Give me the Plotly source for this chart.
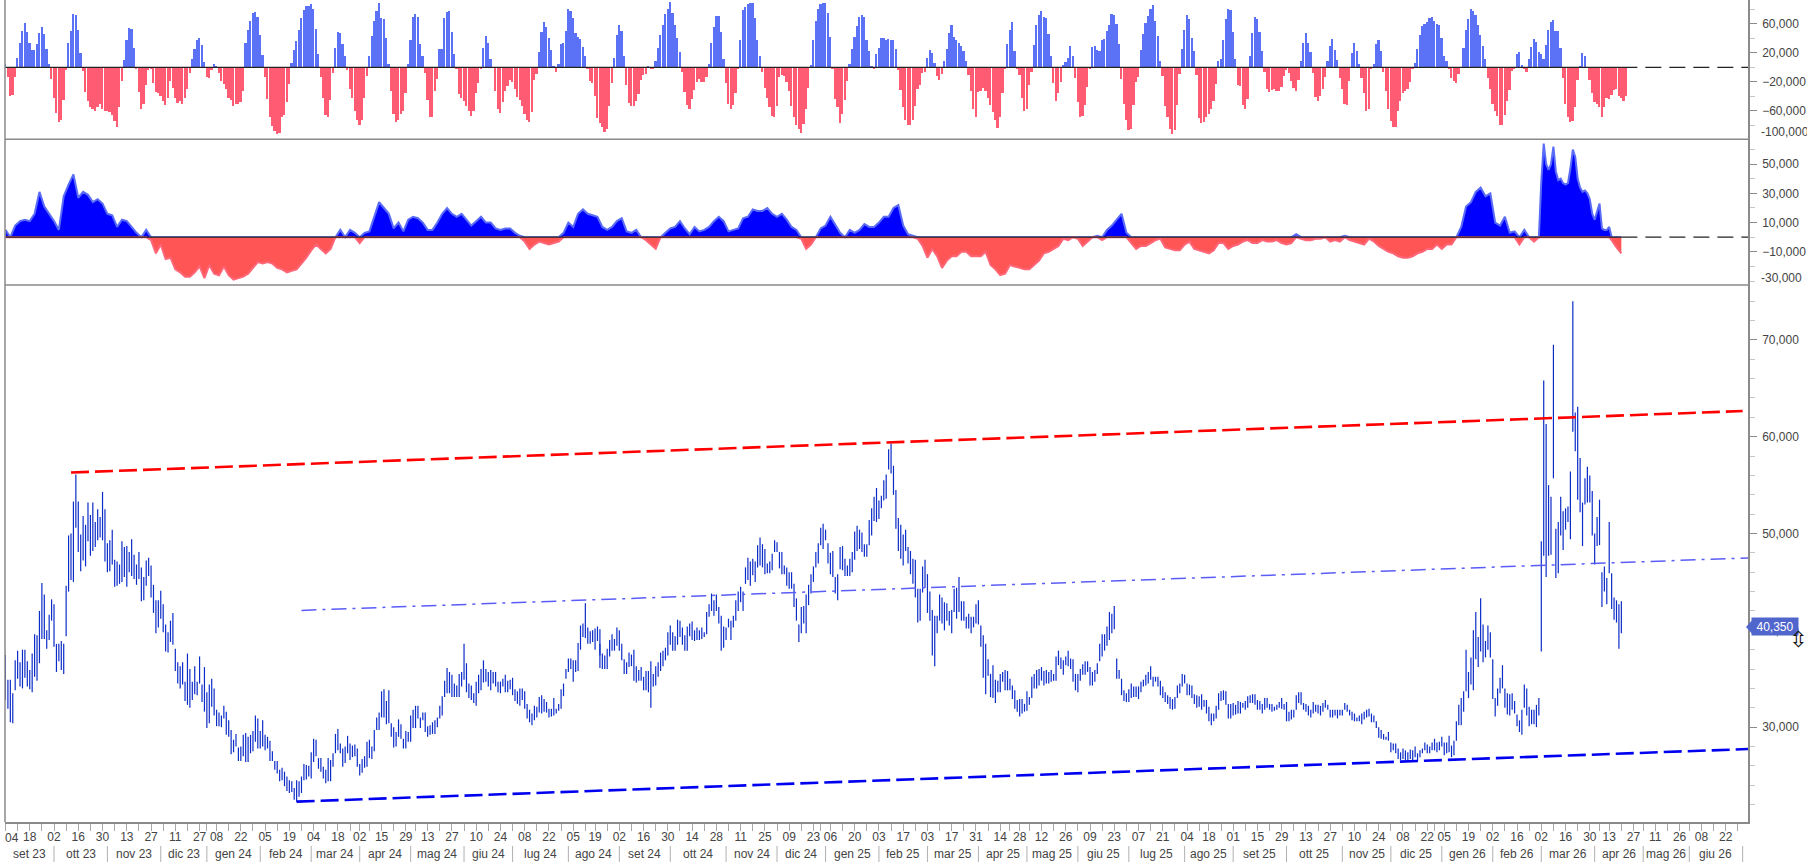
import pandas as pd
import plotly.graph_objects as go

# high/low per session, thousands
bars_a = [(37.5,32.8),(34.9,31.9),(34.9,30.5),(33.5,30.4),(36.9,33.8),(37.9,35.0),(36.7,34.2),(38,34),(38,35.1),(36.8,34.2),
(35.9,33.9),(37.6,33.6),(39.6,35.2),(39.5,34.8),(42,36.6),(44.9,39.1),(43.7,39.1),(40,38.1),(41.6,39),(43.2,41),
(42.7,38.3),(38.6,35.7),(38.6,36.8),(38.9,35.9),(38.6,35.5),(44.6,39.4),(49.8,44),(50,45.2),(53.3,45),(56.1,50.6),
(53.3,48.1),(49.9,46.1),(51.8,47.2),(50.9,46.6),(53.2,49.2),(51.9,47.7),(53.2,48.2),(51.2,48.6),(52.5,49.3),(51.7,49.6),
(54.3,49.3),(52.5,47.1),(49,46),(49.3,46.1),(50.4,46.8),(47.3,44.5),(47.1,44.6),(46.8,44.8),(49.2,45),(48.6,45.5),
(48.7,44.5),(48.1,46),(49.4,45.6),(47.8,45.3),(46.8,44.7),(48.1,45.3),(46.5,43),(45.5,43.1),(47.2,44.6),(47.5,45.6),
(46.7,43.4),(44.7,41.8),(43.1,39.7),(43.1,40.3),(44.1,41.2),(42.7,39.8),(40.6,37.8),(39.8,37.7),(41,38.8),(41.8,38.5),
(38.1,35.8),(36.7,34.5),(36.3,34),(36.7,34.4),(34.7,32.7),(37.6,32.3),(36,32),(34.7,32.8),(36.3,33.4),(34.7,33.3),
(37.3,34.5),(34.4,32.6),(36.2,31.6),(33.6,29.9),(34.4,30.4),(35,32.1),(34,31.2),(31.8,30.1),(31.5,30.1),(31.2,30),
(32.2,30.9),(31.6,29.2),(30.7,29),(29.7,27.2),(28.7,27.4),(29.3,28),(27.9,26.5),(28,26.5),(29.2,27),(29.4,26.4),
(29,26.4),(29.2,27.3),(29.6,27.5),(31.2,28.5),(30.9,27.8),(29.6,27.8),(30.7,28),(29.2,27.6),(29,27.8),(28.6,26.5),
(27.5,26.5),(26.5,25.6),(26.5,25.2),(25.6,24.4),(25.8,24.5),(25.4,23.9),(24.9,23.4),(24.5,23.2),(24.4,23.3),(23.7,22.5),
(24.5,22.3),(24.4,22.8),(24.9,23.2),(26.2,24.5),(26.1,24.6),(26,24.9),(27.4,24.7),(28.8,26.4),(28.7,27),(26.8,25.7),
(26.8,25.4),(25.9,24.7),(25.6,24.2),(26.8,24.4),(26.6,24.4),(27.3,25.9),(29.3,27.3),(29.8,27.6),(28.3,27.3),(27.8,25.9),
(28,26.3),(29.1,27.3),(28.3,26.6),(28.1,26.9),(28.2,27),(27.8,25.9),(26.2,25),(26.7,25.3),(27,25.8),(28.5,25.9),
(28.7,26.8),(28,26.7),(29.7,27.5),(31,29.7),(31.5,29.7),(33.7,31),(33.9,31),(32.7,30.3),(33.8,30.4),(30.4,29),
(30,27.9),(29.5,28),(30.8,29),(30.3,28.8),(28.8,27.8),(29.6,27.8),(29.5,28.5),(31.2,28.5),(31.8,29.9),(32.2,29.9),
(32.2,30.9),(31,29.9),(31.5,30.7),(31.5,29.5),(30.1,29),(30.2,29.2),(30.5,29.3),(30.7,29.3),(31,30),(32.2,30.9),
(33.2,31.2),(34.8,33.1),(36.1,33.5),(35.7,33.5),(35.4,33.1),(34.5,33.1),(34.3,33.1),(35.5,33.1),(35.7,34.2),(38.6,34.9),
(36.6,33.6),(34.5,33),(34.3,32.8),(33.5,32.5),(34.7,32.2),(35.4,33.5),(36,33.8),(36.9,34.6),(36,34.7),(35.7,34.2),
(35.9,33.8),(35.7,34.5),(35.7,34.2),(34.7,33.6),(34.7,33.5),(35,34.2),(35.4,33.6),(34.8,33.6),(34.9,33.9),(35.1,33.3),
(33.9,32.7),(33.7,32.4),(34,32.2),(34,32.8),(33.7,31.9),(32.4,30.9),(31.8,30.5),(31.4,30.2),(32.2,30.7),(32.1,31),
(33.1,31.5),(33.3,31.4),(32.9,31.6),(32.6,31.5),(31.9,31),(31.9,31.1),(33,31.2),(31.9,31.4),(32.4,31.7),(33.9,31.9),
(34.5,33.2),(36,35),(37.1,35.7),(37.1,36),(36.9,34.7),(36.9,35.7),(38.7,35.8),(40.5,38),(40.7,39.3),(42.8,39.2),
(40.3,38.6),(39.9,38.6),(40,38.8),(40.2,38),(40.4,38.9),(40.1,37.4)]
bars_b = [(38.6,36.1),(37.6,36),(37.4,36),(38.1,36),(39,37.3),(39.6,37.9),(39.1,37.9),(40.3,38.4),(40,37.9),(38.6,36.9),
(37,35.5),(36.7,35.5),(37.7,36.2),(37.5,36.3),(38,34.8),(36.3,34.6),(35.9,34.8),(36.2,34.8),(35.2,33.8),(35.8,33.8),
(35.8,33.6),(36.8,32),(35.5,34.2),(36.3,34.3),(36.7,35.2),(37.7,35.8),(37.9,36.3),(38.2,36.9),(39.8,37.4),(40.5,38.5),
(39.8,37.9),(39.4,37.9),(41.1,38.5),(41,39.3),(40.3,38.5),(39.5,37.9),(40.4,37.9),(40.7,39.4),(40.9,39),(40,38.9),
(40.3,39),(40,39),(40.3,39.1),(39.8,39.3),(41.9,39.6),(42.7,41.4),(43.8,42),(43.1,41.5),(43.7,42),(42.4,40.7),
(41.5,37.9),(40.4,38.2),(40.3,39),(41.2,40.3),(41,39),(41.5,40.3),(43.1,41),(44,42),(44.5,42.9),(44,42),
(46.5,44.8),(47.5,45.2),(47.1,44.6),(47.4,45.7),(47.1,45),(48.8,46.5),(49.6,46.7),(48.9,46.5),(48.4,45.8),(46.9,45.9),
(47.1,45.9),(47.9,46.2),(49.3,48.1),(49.1,48.1),(48.1,46.4),(48.1,45.8),(46.7,45.8),(46.5,44.6),(46,44.3),(46,44.3),
(44.8,42.4),(43.3,41),(40.6,38.8),(42.4,39.7),(42.5,40.7),(43.7,39.7),(44.7,42.6),(45.8,43.8),(46.6,45),(48.1,46.5),
(49,46.9),(50.6,48.8),(51,48.4),(50.4,49.3),(49,46.9),(48,45.8),(48.2,45.5),(45.5,43.8),(45.8,43.1),(48.6,46.3),
(48.7,46.2),(47.4,45.6),(46.7,45.6),(47.4,45.6),(48.1,46),(50.2,47.3),(50.8,48.2),(50.4,48.4),(50.1,48.1),(48.9,47.6),
(48.9,47.6),(51.4,48.8),(52.6,49.8),(53.8,51.3),(54.7,51.2),(53.4,51.5),(53.9,52.6),(55.5,53.4),(56.1,53.6),(58.7,56.6),
(59.3,56.2),(57,54),(54.5,50.5),(51.6,48.2),(50.9,47.4),(49.9,46.7),(50.4,48.2),(48.6,46.9),(48.2,45.8),(47.4,44.8),
(47.3,43.4),(44.3,40.8),(44.3,41),(46.6,43.9),(47.3,44.4),(45.8,41.8),(44,41),(42.1,37.4),(41.5,36.3),(41.5,39.7),
(43.7,41),(43.4,40.7),(42.9,40),(42.8,41),(42,40.5),(42.1,39.7),(44.3,41.9),(44.4,41.2),(45.5,41.9),(43,41),
(43,41),(41.4,40.2),(41.7,40.2),(41.4,39.7),(41.4,40.3),(42.7,40.7),(43.1,40.6),(40.5,38.3),(39.5,35.1),(38.6,33.4),
(37,35.3),(35.5,33.1),(36.4,33),(34.9,32.5),(34.8,33.6),(35.5,33.6),(35.7,34.7),(35.9,33.8),(35.8,33.8),(35,33.8),
(34.3,32.9),(33.8,31.9),(32.8,31.6),(32.9,31.1),(32.9,31.4),(32.4,31.6),(33.7,31.7),(33.1,32.3),(35.2,33),(35.5,34),
(35.9,34),(36,34.3),(36.2,34.8),(35.8,34.3),(35.9,34.5),(35.7,34.5),(35.9,34.7),(35.5,34.8),(37.3,34.8),(37.9,36.4),
(37.2,36),(36.9,35.4),(37.3,36.4),(37.9,36.3),(37.1,36),(37,34.7),(35.5,33.8),(35.5,33.6),(36,34.8),(36.5,35.4),
(36.8,35.4),(36.8,35.7),(36.2,34.3),(35.7,34.3),(35.9,34.7),(36.6,35.5),(38.6,36.8),(39.6,37.3),(39.6,37.9),(40.4,38.4),
(41.9,39),(41.7,39.7),(42.5,40.1),(37.1,35),(35.9,35),(35,33.3),(33.8,32.7),(33.5,32.6),(33.9,32.6),(34.5,33),
(34.2,33.1),(34.2,33.1),(34.2,32.9),(34.7,33.6),(34.9,34.2),(35.4,34.3),(35.7,34.5),(36.3,34.9),(35.2,34.2),(35.2,34.7),
(35.2,34.2),(34.8,33.3),(34.2,33),(33.6,32.6),(33.3,32.4),(33.1,31.9),(32.9,31.8),(33.1,31.9),(34.3,33),(34.5,33.5),
(35.5,34.2),(35.4,34.5),(34.5,33.3),(34.4,33.3),(34.3,33),(33.4,32.4),(33.3,32),(33.2,32.1)]
bars_c = [(33.4,31.8),(32.8,32.1),(32.8,31.4),(32.1,30.6),(31.4,30.2),(31.4,30.6),(32.2,30.9),(33.5,31.8),(33.7,32.7),(33.8,32.8),
(33.7,32.3),(32.4,30.9),(32.4,30.9),(32.5,31.2),(32.3,31.3),(32.7,31.4),(32.6,31.4),(32.5,32),(32.7,31.8),(33.2,32),
(33.3,32.5),(33.4,32.5),(33.4,32.3),(32.8,31.8),(32.7,31.8),(32.4,31.4),(33,31.8),(33,32),(32.4,31.8),(32.4,31.6),
(32.1,31.7),(32.3,31.8),(32.6,32),(33,31.9),(32.4,31.8),(32.6,30.6),(31.6,30.6),(31.8,30.8),(31.8,31),(33.3,31.8),
(33.6,32.5),(33.6,32.3),(32.5,31.8),(32.4,31.6),(32.2,31.2),(31.8,31),(32.6,31.4),(32.3,31.6),(32.3,31.4),(32.2,31.2),
(32.5,31.6),(32.8,32),(32.3,31.8),(31.8,31),(31.8,31),(31.8,31.2),(31.8,30.9),(31.8,31.2),(31.8,31.2),(32.5,31.8),
(32.3,31.6),(31.8,31.2),(31.6,30.7),(31.4,30.6),(31,30.6),(31.2,30.6),(31.4,30.3),(31.6,30.8),(31.8,31),(31.9,31.1),
(31.4,30.5),(31.2,30.5),(30.6,29.9),(30,28.9),(29.7,28.8),(29.3,28.7),(29,28.7),(29.5,28.6),(28.4,27.4),(28.3,27.6),
(28.3,27.3),(27.8,26.7),(27.4,26.6),(27.8,26.7),(27.6,26.6),(27.4,26.5),(27.7,26.7),(27.6,26.6),(28,26.9),(27.3,26.5),
(27.6,26.9),(27.8,27.3),(28.4,27.6),(28.2,27.3),(28,27.3),(28.4,27.6),(28.8,27.6),(28.4,27.4),(28.5,27.6),(29,28),
(28.4,27.1),(28.4,27.3),(29.1,27.4),(28.1,26.9),(28.6,27.1),(30.6,28.6),(32.3,30.2),(33,30.2),(33.7,31.6),(38,33.7),
(35.7,33),(37.2,34.4),(40,33.8),(41.9,37),(39.3,36.2),(43.3,37.8),(40.6,36.7),(38.9,37.2),(40.5,38),(39.8,37.2),
(37,32.9),(33,31.1),(34,32.2),(35.1,33.5),(36.4,34),(34,32),(33.5,31.3),(33.4,31.2),(33.5,31.8),(32.7,31.4),
(31.3,30.1),(30.7,29.5),(31.8,29.2),(34.4,32),(34,31.2),(32.1,30.1),(31.8,30.3),(31.8,30.3),(32.3,30),(33,31.2),
(49.2,37.8),(65.8,47.7),(61.3,45.5),(55,47.7),(53.8,47.8),(69.5,55.7),(50.5,45.4),(51.2,45.9),(53.8,49.8),(52.3,48.3),
(52.6,50.4),(52.8,51.2),(56.4,49.4),(74,60.5),(62.5,58.5),(63.1,53.5),(57.8,52.2),(53.2,48.7),(55.7,53),(56.9,53.2),
(56,53.2),(54.4,49.8),(50,46.8),(51.7,48.7),(53.5,48.8),(46,42.4),(46.6,44),(45.4,42.7),(51.2,45.9),(45.9,42.2),
(43.4,41.1),(43.1,40.8),(42.7,38.1),(43,39.7)]
bars_a_start = 0
bars_b_start = 245
bars_c_start = 493

# upper histogram, thousands
hist_a = [5,-14,-40,-38,-13,13,34,50,61,49,34,24,24,32,47,55,46,25,5,-16,-42,-63,-75,-73,-45,-4,33,50,73,72,52,20,-5,-34,-47,-55,-58,-60,-55,-50,
-58,-60,-60,-62,-66,-74,-82,-55,-19,10,38,54,53,27,-3,-34,-58,-50,-24,-4,-3,-21,-34,-36,-39,-46,-52,-42,-19,-28,-43,-49,-47,-50,-43,-30,-8,12,25,38,
40,31,7,-13,-15,-4,5,2,-8,-19,-23,-30,-42,-45,-53,-50,-51,-48,-32,33,52,64,75,76,70,45,17,-13,-44,-68,-81,-88,-92,-90,-68,-66,-48,-23,
6,24,36,51,68,79,84,84,87,80,53,19,-14,-43,-66,-68,-45,-8,27,49,47,32,15,-4,-30,-42,-60,-72,-80,-73,-42,-12,15,43,64,78,88,68,66,40,
4,-33,-64,-75,-73,-64,-60,-35,5,38,70,73,70,32,15,-8,-45,-68,-68,-32,-16,25,25,68,76,77,49,19,-3,-37,-42,-47,-53,-60,-67,-60,-35,-22,-2,26,43,34,
12,0,-33,-58,-63,-48,-32,-26,-18,-20,-30,-41,-45,-54,-64,-72,-76,-61,-17,-9,21,49,62,56,40,24,1,-7,5,32,33,50,80,78,68,47,42,39,28,16,
-2,-19,-22,-40,-70]
hist_b = [-77,-83,-89,-85,-53,-21,13,44,59,50,15,-24,-49,-54,-53,-47,-37,-17,-10,-9,2,-2,-3,8,26,45,59,74,81,90,75,58,40,21,-6,-34,-52,-57,-44,-31,
-20,-16,-20,-20,-13,5,33,56,71,71,48,12,-22,-50,-58,-52,-36,-1,37,79,83,87,89,88,68,37,15,-6,-29,-43,-55,-67,-68,-53,-13,-11,-12,-20,-33,-54,
-68,-80,-85,-90,-78,-57,-29,3,37,64,81,87,89,89,75,42,-3,-44,-55,-77,-65,-45,-19,4,25,42,57,69,72,69,37,22,1,-1,18,27,40,41,38,39,38,37,
25,-4,-31,-55,-72,-80,-80,-72,-54,-30,-25,-8,-7,13,24,20,6,-12,-17,-9,8,25,47,58,42,37,33,30,22,8,-10,-33,-58,-68,-34,-33,-28,-32,-42,-52,
-61,-73,-84,-68,-36,-2,32,52,62,22,-1,-10,-43,-60,-57,-24,-6,31,58,72,77,70,68,46,15,-21,-47,-36,-20,3,7,13,29,16,-15,-48,-68,-67,-52,-27,
-1,28,30,24,23,37,39,50,58,73,72,60,32,-16,-50,-73,-86,-85,-52,-20,-13,24,46,61,71,81,86,64,43,8,-12,-53,-68,-85,-92,-86,-52,-9,25,51,
72,67,41,23,-10,-70]
hist_c = [-77,-76,-68,-65,-57,-46,-23,9,12,38,66,81,79,48,11,-25,-26,-52,-57,-44,16,47,69,66,49,22,-7,-30,-34,-31,-30,-32,-33,-27,-12,-4,-8,-19,-29,-33,
-18,9,34,47,34,21,-8,-41,-46,-40,-30,-13,9,29,39,24,10,-15,-30,-50,-52,-19,20,34,23,4,-15,-36,-60,-57,-2,5,32,37,22,-6,-32,-57,-74,-82,
-82,-60,-46,-36,-33,-30,-20,-1,6,25,44,57,60,62,68,70,64,60,58,41,16,8,-2,-15,-19,-21,-9,0,26,52,67,80,78,72,59,45,30,12,-15,-30,-50,-60,
-67,-79,-80,-66,-46,-31,-5,-1,18,21,3,-3,-6,12,28,39,35,21,18,12,31,51,63,65,50,50,27,-15,-51,-68,-76,-74,-55,-18,2,20,16,0,-17,-36,-48,-50,
-55,-68,-55,-42,-44,-38,-31,-30,-40,-43,-47,-39]
hist_a_start = 0
hist_b_start = 245
hist_c_start = 493

# lower area indicator, thousands, one reading every two sessions, daily at the end
flow_a = [5,0,8,11,12,11,16,31,21,16,11,5,28,36,43,27,31,29,24,26,23,16,15,7,12,11,7,3,0,5,-2,-11,-5,-15,-14,-22,-24,
-27,-27,-24,-20,-28,-19,-25,-26,-20,-26,-29,-28,-27,-25,-21,-17,-18,-17,-18,-21,-22,-24,-23,-22,-18,-14,-9,-5,-8,-11,
-8,0,5,0,5,3,-4,3,4,14,24,20,16,6,10,4,12,14,13,10,5,5,10,16,20,16,14,16,12,8,11,14,10,10,6,5,6,6,3,1,
-3,-8,-5,-3,-4,-5,-4,-3,3,10,7,16,19,16,15,14]
flow_b = [7,5,7,11,13,4,3,5,0,-2,-5,-8,0,3,6,7,11,6,2,7,4,5,7,11,14,11,4,5,6,13,14,19,18,18,20,16,14,16,12,7,
5,-1,-8,-5,0,6,8,14,8,3,0,5,3,5,9,7,7,10,14,14,20,22,8,2,1,-1,-6,-14,-8,-13,-21,-16,-13,-13,-10,-10,-13,-13,-13,
-10,-19,-22,-26,-25,-19,-20,-21,-22,-22,-19,-16,-11,-10,-8,-6,-1,-2,0,-1,-6,-3,0,1,-2,5,8,12,16,3,-4,-8,-6,-6,-4,-2,-1,-7,-8,-9,-9,-5,-3,-8]
flow_c = [-10,-11,-9,-4,-4,-8,-6,-5,-3,-2,-4,-4,-2,-3,-3,-2,-4,-5,-4,2,-1,-2,-2,-1,-1,0,-3,-2,-3,1,-2,-3,-4,-5,-1,-3,-6,-8,-10,-11,
-13,-14,-14,-13,-11,-10,-8,-8,-5,-8,-5,-5,0,7,21,24,31,34,28,30,10,8,14,3,4,-5,5,0,-3,0]
flow_d = [38,64,50,46,50,62,45,39,40,37,36,37,47,60,55,40,34,31,32,30,26,16,12,18,23,6,5,5,7,-2,-5,-7,-9,-11]
flow_step = 2
flow_a_start, flow_b_start, flow_c_start, flow_d_start = 0, 246, 494, 633

# exchange closed days
closed_days = ["2023-12-25","2023-12-26","2024-01-01","2024-03-29","2024-04-01","2024-05-01","2024-08-15","2024-12-25","2024-12-26",
               "2025-01-01","2025-04-18","2025-04-21","2025-05-01","2025-08-15","2025-12-25","2025-12-26","2026-01-01","2026-04-03",
               "2026-04-06","2026-05-01","2026-05-25"]
month_names = ["gen","feb","mar","apr","mag","giu","lug","ago","set","ott","nov","dic"]

# trend lines, bar number and price
red_x, red_y = [27, 716], [56300, 62650]
blue_x, blue_y = [120, 718.2], [22300, 27740]
mid_x, mid_y = [122, 718.2], [42060, 47480]
last_price = 40350

top_ticks = [60000, 20000, -20000, -60000]
flow_ticks = [50000, 30000, 10000, -10000]
price_ticks = [30000, 40000, 50000, 60000, 70000]

GREY = "#8a8a8a"
TEXT = "#444444"
FONT = "Liberation Sans, Arial, sans-serif"
W, H = 1807, 862
L, R, B = 5, 59, 40
PW, PH = W - L - R, H - B

def px_y(py):
    return (PH - py) / PH

def px_x(px):
    return (px - L) / PW

# calendar -> bar numbers
days = pd.bdate_range("2023-09-04", "2026-07-03")
days = days[~days.isin(pd.to_datetime(closed_days))]
cal = pd.DataFrame({"d": days, "i": range(len(days))})
weeks = cal.groupby(cal.d.dt.to_period("W")).first()
tick_vals = weeks.i.tolist()
tick_text = [d.strftime("%d") if n % 2 == 0 else "" for n, d in enumerate(weeks.d)]
first_label = tick_text[0]
tick_text[0] = ""
months = cal.groupby(cal.d.dt.to_period("M")).first()
x_end = 718.2
x_start = -0.2

fig = go.Figure()

# price bars
bx, by = [], []
for start, seg in [(bars_a_start, bars_a), (bars_b_start, bars_b), (bars_c_start, bars_c)]:
    for k, (hi, lo) in enumerate(seg):
        bx += [start + k, start + k, None]
        by += [lo * 1000, hi * 1000, None]
fig.add_trace(go.Scatter(x=bx, y=by, mode="lines", line=dict(color="#0c2cc8", width=1.2), hoverinfo="skip", yaxis="y"))
fig.add_trace(go.Scatter(x=red_x, y=red_y, mode="lines", line=dict(color="#ff0000", width=2.6, dash="18px,6px"), hoverinfo="skip", yaxis="y"))
fig.add_trace(go.Scatter(x=blue_x, y=blue_y, mode="lines", line=dict(color="#0000f0", width=2.6, dash="18px,6px"), hoverinfo="skip", yaxis="y"))
fig.add_trace(go.Scatter(x=mid_x, y=mid_y, mode="lines", line=dict(color="#5a5cf8", width=1.5, dash="15px,6px,3px,6px"), hoverinfo="skip", yaxis="y"))

# histogram pane
hx, hy = [], []
for start, seg in [(hist_a_start, hist_a), (hist_b_start, hist_b), (hist_c_start, hist_c)]:
    for k, v in enumerate(seg):
        hx.append(start + k)
        hy.append(v * 1000)
fig.add_trace(go.Bar(x=hx, y=hy, width=0.7, marker=dict(color=["#5c72f6" if v > 0 else "#ff5c74" for v in hy], line_width=0),
                     hoverinfo="skip", yaxis="y3"))

# area pane
flow_x, flow_vals = [], []
for start, step, seg in [(flow_a_start, flow_step, flow_a), (flow_b_start, flow_step, flow_b), (flow_c_start, flow_step, flow_c), (flow_d_start, 1, flow_d)]:
    for k, v in enumerate(seg):
        flow_x.append(start + k * step)
        flow_vals.append(v)
fig.add_trace(go.Scatter(x=flow_x, y=[max(v, 0) * 1000 for v in flow_vals], mode="lines", fill="tozeroy", fillcolor="#0000ff",
                         line=dict(color="#5a6cf5", width=2), hoverinfo="skip", yaxis="y2"))
fig.add_trace(go.Scatter(x=flow_x, y=[min(v, 0) * 1000 for v in flow_vals], mode="lines", fill="tozeroy", fillcolor="#ff5555",
                         line=dict(color="#ff6678", width=2), hoverinfo="skip", yaxis="y2"))

# zero lines, solid under the data then dashed
last_bar = flow_x[-1]
for ax in ["y2", "y3"]:
    fig.add_trace(go.Scatter(x=[x_start, last_bar], y=[0, 0], mode="lines", line=dict(color="#222222", width=1.3), hoverinfo="skip", yaxis=ax))
    fig.add_trace(go.Scatter(x=[last_bar, x_end], y=[0, 0], mode="lines", line=dict(color="#222222", width=1.3, dash="16px,8px"), hoverinfo="skip", yaxis=ax))

shapes = []
for py in [139.3, 285]:
    shapes.append(dict(type="line", xref="paper", yref="paper", x0=0, x1=1, y0=px_y(py), y1=px_y(py), line=dict(color=GREY, width=1.5)))
shapes.append(dict(type="line", xref="paper", yref="paper", x0=0, x1=0, y0=0, y1=1, line=dict(color=GREY, width=1.5)))

annotations = [dict(text=first_label, xref="paper", yref="paper", x=px_x(11.5), y=px_y(837.7), showarrow=False, xanchor="center", yanchor="middle",
                    font=dict(family=FONT, size=12, color=TEXT))]
firsts = months.i.tolist() + [None]
for n, (per, row) in enumerate(months.iterrows()):
    if n > 0:
        shapes.append(dict(type="line", xref="x", yref="paper", x0=row.i, x1=row.i, y0=px_y(846), y1=px_y(862), line=dict(color="#b0b0b0", width=1)))
    if firsts[n + 1] is not None:
        label = f"{month_names[per.month - 1]} {str(per.year)[2:]}"
        annotations.append(dict(text=label, xref="x", yref="paper", x=(row.i + firsts[n + 1]) / 2, y=px_y(853.7), showarrow=False,
                                xanchor="center", yanchor="middle", font=dict(family=FONT, size=12, color=TEXT)))

# last price tag
shapes.append(dict(type="path", xref="paper", yref="y", path=f"M {px_x(1746)},{last_price} L {px_x(1753)},{last_price + 800} L {px_x(1753)},{last_price - 800} Z",
                   fillcolor="#5166cc", line_width=0))
annotations.append(dict(text="40,350", xref="paper", yref="y", x=px_x(1775), y=last_price, showarrow=False, bgcolor="#5166cc", width=44, height=15,
                        xanchor="center", yanchor="middle", font=dict(family=FONT, size=12, color="white")))
annotations.append(dict(text="⇳", xref="paper", yref="paper", x=px_x(1798), y=px_y(639), showarrow=False, xanchor="center", yanchor="middle",
                        font=dict(family="DejaVu Sans", size=22, color="#111111")))
annotations.append(dict(text="-100,000", xref="paper", yref="paper", x=px_x(1759), y=px_y(131.7), xanchor="left", yanchor="middle", showarrow=False,
                        font=dict(family=FONT, size=12, color=TEXT)))
annotations.append(dict(text="-30,000", xref="paper", yref="paper", x=px_x(1758.6), y=px_y(277.7), xanchor="left", yanchor="middle", showarrow=False,
                        font=dict(family=FONT, size=12, color=TEXT)))

def right_axis(domain, rng, ticks, minor_step):
    return dict(domain=domain, range=rng, side="right", anchor="x", tickmode="array", tickvals=ticks, tickformat=",",
                ticks="outside", ticklen=7, tickcolor=GREY, showline=True, linecolor=GREY, linewidth=1.5, showgrid=False, zeroline=False,
                ticklabelstandoff=3, tickfont=dict(family=FONT, size=12, color=TEXT),
                minor=dict(ticks="outside", ticklen=5, tickcolor="#c8c8c8", dtick=minor_step, tick0=0, showgrid=False))

fig.update_layout(
    width=W, height=H, autosize=False, showlegend=False, paper_bgcolor="white", plot_bgcolor="white", bargap=0,
    margin=dict(l=L, r=R, t=0, b=B, pad=0), shapes=shapes, annotations=annotations,
    xaxis=dict(range=[x_start, x_end], tickmode="array", tickvals=tick_vals, ticktext=tick_text, ticks="outside", ticklen=7, tickcolor="#a8a8a8",
               showline=True, linecolor=GREY, linewidth=1.5, showgrid=False, zeroline=False, tickangle=0, ticklabelstandoff=-4,
               tickfont=dict(family=FONT, size=12, color=TEXT)),
    yaxis=right_axis([0, px_y(285)], [20200, 75670], price_ticks, 2000),
    yaxis2=right_axis([px_y(285), px_y(139.3)], [-32700, 67000], flow_ticks, 10000),
    yaxis3=right_axis([px_y(139.3), 1], [-99300, 92800], top_ticks, 20000),
)

# no body margin, and crisp price bars like the original raster
post = """document.body.style.margin='0';
var t=document.querySelector('.scatterlayer .trace .js-line'); if(t){t.style.shapeRendering='crispEdges';}"""
fig.write_html("out.html", config=dict(displayModeBar=False), post_script=post)
